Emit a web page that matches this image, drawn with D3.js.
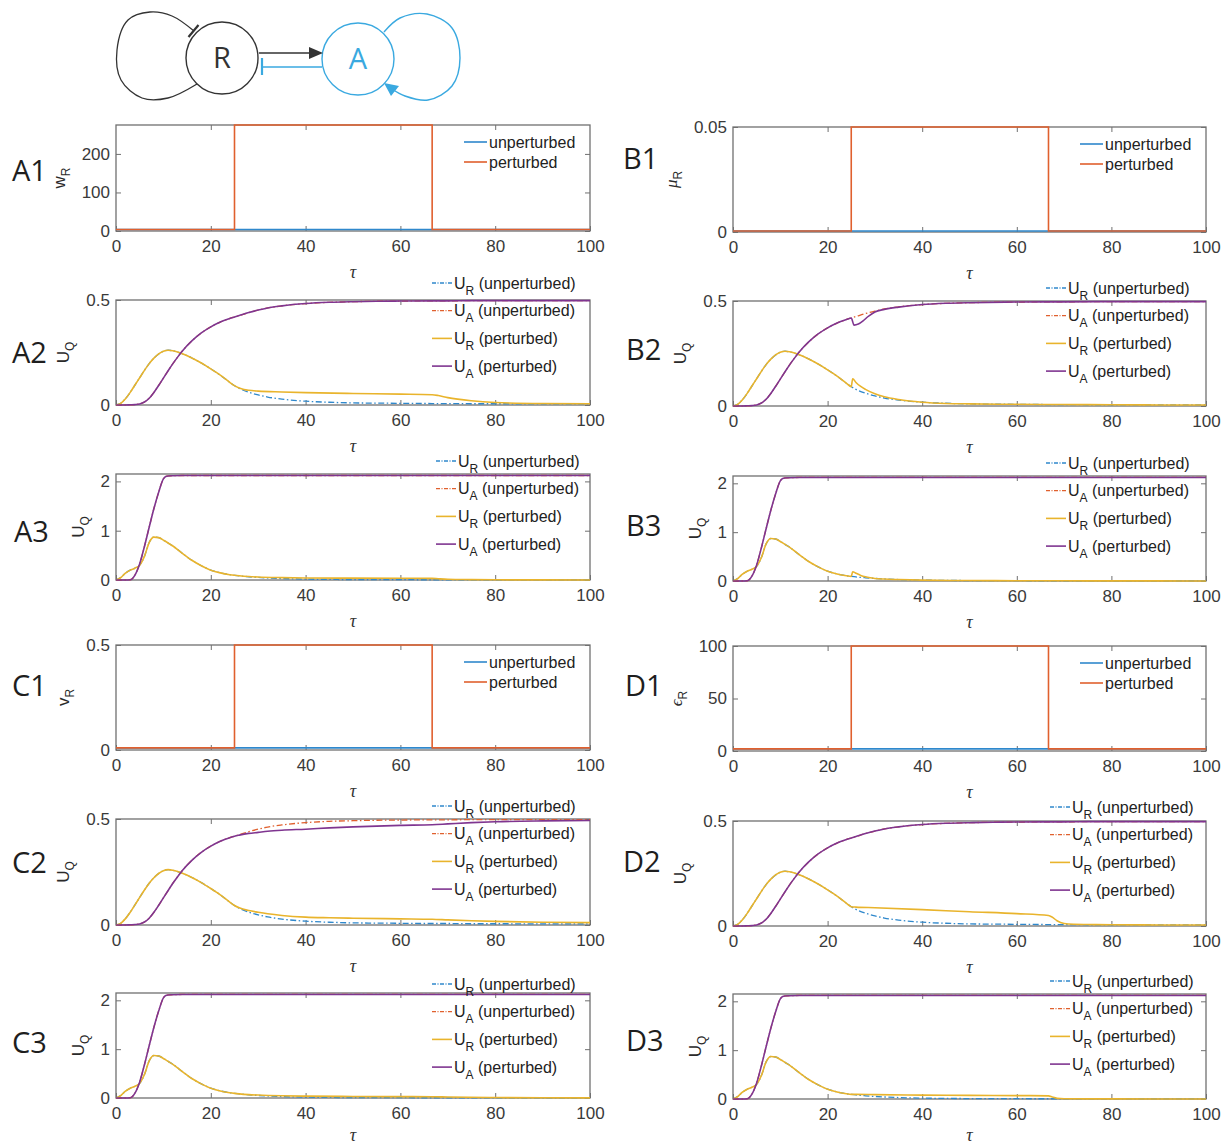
<!DOCTYPE html>
<html><head><meta charset="utf-8">
<script src="https://cdn.jsdelivr.net/npm/d3@7"></script>
<style>body{margin:0;background:#fff}svg{display:block}text{white-space:pre}</style>
</head><body>
<script>
// ---------------- DATA ----------------
const xTicks = [0, 20, 40, 60, 80, 100];

// pulse perturbation (rows 1 & 4)
const pulseTau = [0, 25, 25, 66.7, 66.7, 100];
const wR_unpert = [4, 4, 4, 4, 4, 4];
const wR_pert = [4, 4, 275, 275, 4, 4];
const muR_unpert = [0.0005, 0.0005, 0.0005, 0.0005, 0.0005, 0.0005];
const muR_pert = [0.0005, 0.0005, 0.05, 0.05, 0.0005, 0.0005];
const vR_unpert = [0.01, 0.01, 0.01, 0.01, 0.01, 0.01];
const vR_pert = [0.01, 0.01, 0.5, 0.5, 0.01, 0.01];
const epsR_unpert = [2, 2, 2, 2, 2, 2];
const epsR_pert = [2, 2, 100, 100, 2, 2];

// y tick labels
const wR_ticks = [0, 100, 200];
const muR_ticks = [0, 0.05];
const vR_ticks = [0, 0.5];
const epsR_ticks = [0, 50, 100];
const uLow_ticks = [0, 0.5];
const uHigh_ticks = [0, 1, 2];

// unperturbed, rows 2 & 5
const tauLow = [0,1,2,3,4,5,6,7,8,9,10,11,12,13,14,16,18,20,22,24,25,26,28,30,32,35,40,45,50,55,60,66.7,70,75,80,90,100];
const uR_low = [0,0.008,0.03,0.06,0.095,0.13,0.165,0.197,0.223,0.243,0.256,0.261,0.258,0.252,0.244,0.224,0.2,0.172,0.142,0.108,0.092,0.079,0.061,0.048,0.038,0.028,0.018,0.013,0.01,0.009,0.008,0.007,0.007,0.006,0.006,0.005,0.005];
const uA_low = [0,0,0,0.001,0.002,0.005,0.014,0.032,0.06,0.093,0.128,0.163,0.197,0.228,0.257,0.305,0.343,0.372,0.395,0.412,0.419,0.426,0.44,0.452,0.462,0.472,0.483,0.489,0.492,0.494,0.495,0.496,0.496,0.497,0.497,0.497,0.497];

// perturbed tails (from tau = 25 on)
const A2_uR_tau = [25,26,27,28,30,35,40,50,60,66.7,68,70,75,80,90,100];
const A2_uR = [0.092,0.081,0.074,0.07,0.066,0.062,0.059,0.055,0.052,0.049,0.045,0.035,0.02,0.012,0.007,0.006];
const B2_uR_tau = [25,25.3,26,27,28,30,32,35,40,45,50,60,70,80,90,100];
const B2_uR = [0.092,0.13,0.112,0.093,0.079,0.058,0.044,0.031,0.018,0.012,0.01,0.008,0.007,0.006,0.005,0.005];
const B2_uA_tau = [25,25.6,26.5,27.5,28.5,30,32,35,40,45,50,60,70,80,90,100];
const B2_uA = [0.419,0.385,0.39,0.405,0.425,0.448,0.46,0.471,0.483,0.489,0.492,0.495,0.496,0.497,0.497,0.497];
const C2_tau = [25,26,28,30,32,35,40,45,50,60,66.7,70,75,80,90,100];
const C2_uR = [0.092,0.081,0.068,0.06,0.053,0.045,0.037,0.034,0.032,0.029,0.027,0.024,0.02,0.017,0.013,0.011];
const C2_uA = [0.419,0.424,0.432,0.437,0.442,0.447,0.452,0.458,0.463,0.47,0.473,0.477,0.483,0.487,0.491,0.493];
const D2_uR_tau = [25,26,30,40,50,60,66.7,67.5,68.5,70,72,75,80,90,100];
const D2_uR = [0.092,0.09,0.087,0.078,0.068,0.059,0.05,0.042,0.025,0.012,0.008,0.007,0.006,0.005,0.005];

// unperturbed, rows 3 & 6
const tauHigh = [0,1,2,3,4,5,6,7,8,9,10,10.5,11,12,14,16,18,20,22,24,25,26,28,30,35,40,45,50,60,66.7,70,80,90,100];
const uR_high = [0,0.05,0.14,0.2,0.24,0.3,0.48,0.76,0.87,0.86,0.81,0.78,0.75,0.69,0.54,0.4,0.29,0.2,0.145,0.108,0.095,0.083,0.066,0.052,0.03,0.018,0.012,0.009,0.006,0.005,0.004,0.003,0.002,0.001];
const uA_high = [0,0,0,0.005,0.1,0.33,0.68,1.07,1.45,1.78,2.05,2.1,2.11,2.115,2.12,2.12,2.12,2.12,2.12,2.12,2.12,2.12,2.12,2.12,2.12,2.12,2.12,2.12,2.12,2.12,2.12,2.12,2.12,2.12];

const A3_uR_tau = [25,26,28,30,35,40,50,60,66.7,68,70,75,80,90,100];
const A3_uR = [0.095,0.085,0.07,0.06,0.048,0.042,0.038,0.035,0.033,0.025,0.015,0.008,0.004,0.002,0.001];
const B3_uR_tau = [25,25.3,26,27,28,29,30,32,35,40,50,60,70,80,90,100];
const B3_uR = [0.095,0.19,0.16,0.115,0.085,0.065,0.052,0.04,0.03,0.018,0.009,0.006,0.004,0.003,0.002,0.001];
const C3_uR_tau = [25,26,28,30,35,40,50,60,66.7,70,80,90,100];
const C3_uR = [0.095,0.085,0.07,0.06,0.045,0.038,0.032,0.028,0.026,0.02,0.01,0.005,0.003];
const D3_uR_tau = [25,26,30,40,50,60,66.7,67.5,68.5,70,75,80,100];
const D3_uR = [0.095,0.095,0.09,0.08,0.075,0.07,0.065,0.04,0.015,0.006,0.003,0.002,0.001];

const paramLegend = ["unperturbed", "perturbed"];
const uLegend = [["R","(unperturbed)"],["A","(unperturbed)"],["R","(perturbed)"],["A","(perturbed)"]];

// ---------------- STYLE ----------------
const COL = {blue:"#2f88cc", orange:"#e0602e", yellow:"#e9b42c", purple:"#7f3590"};
const AXIS = "#707070";
const FONT = "'Liberation Sans', Arial, Helvetica, sans-serif";

const svg = d3.select("body").append("svg").attr("width",1223).attr("height",1144);
svg.append("rect").attr("width",1223).attr("height",1144).attr("fill","#fff");

function pert(baseTau, baseVals, tailTau, tailVals){
  if(!tailTau) return {t: baseTau, v: baseVals};
  const t=[], v=[];
  baseTau.forEach((d,i)=>{ if(d<25){t.push(d); v.push(baseVals[i]);} });
  return {t: t.concat(tailTau), v: v.concat(tailVals)};
}

const L = {x0:116, x1:590}, R = {x0:733, x1:1206};
const panels = [
  {id:"A1", c:L, top:125, bottom:231, kind:"param", dom:[0,275], ticks:wR_ticks, ylab:"w", yit:false, lx:12, ly:181,
    un:wR_unpert, pe:wR_pert},
  {id:"B1", c:R, top:127, bottom:232, kind:"param", dom:[0,0.05], ticks:muR_ticks, ylab:"μ", yit:true, lx:623, ly:169,
    un:muR_unpert, pe:muR_pert},
  {id:"C1", c:L, top:645, bottom:750, kind:"param", dom:[0,0.5], ticks:vR_ticks, ylab:"v", yit:false, lx:12, ly:696,
    un:vR_unpert, pe:vR_pert},
  {id:"D1", c:R, top:646, bottom:751, kind:"param", dom:[0,100], ticks:epsR_ticks, ylab:"ϵ", yit:true, lx:625, ly:696,
    un:epsR_unpert, pe:epsR_pert},
  {id:"A2", c:L, top:300, bottom:405, kind:"u", dom:[0,0.5], ticks:uLow_ticks, lx:12, ly:363, legY:283, legX:432,
    tau:tauLow, uR:uR_low, uA:uA_low, pR:[A2_uR_tau,A2_uR], pA:null},
  {id:"B2", c:R, top:301, bottom:406, kind:"u", dom:[0,0.5], ticks:uLow_ticks, lx:626, ly:360, legY:288, legX:1046,
    tau:tauLow, uR:uR_low, uA:uA_low, pR:[B2_uR_tau,B2_uR], pA:[B2_uA_tau,B2_uA]},
  {id:"C2", c:L, top:819, bottom:925, kind:"u", dom:[0,0.5], ticks:uLow_ticks, lx:12, ly:873, legY:806, legX:432,
    tau:tauLow, uR:uR_low, uA:uA_low, pR:[C2_tau,C2_uR], pA:[C2_tau,C2_uA]},
  {id:"D2", c:R, top:821, bottom:926, kind:"u", dom:[0,0.5], ticks:uLow_ticks, lx:623, ly:872, legY:807, legX:1050,
    tau:tauLow, uR:uR_low, uA:uA_low, pR:[D2_uR_tau,D2_uR], pA:null},
  {id:"A3", c:L, top:474, bottom:580, kind:"u", dom:[0,2.15], ticks:uHigh_ticks, lx:14, ly:542, legY:461, legX:436,
    tau:tauHigh, uR:uR_high, uA:uA_high, pR:[A3_uR_tau,A3_uR], pA:null},
  {id:"B3", c:R, top:476, bottom:581, kind:"u", dom:[0,2.15], ticks:uHigh_ticks, lx:626, ly:536, legY:463, legX:1046,
    tau:tauHigh, uR:uR_high, uA:uA_high, pR:[B3_uR_tau,B3_uR], pA:null},
  {id:"C3", c:L, top:993, bottom:1098, kind:"u", dom:[0,2.15], ticks:uHigh_ticks, lx:12, ly:1053, legY:984, legX:432,
    tau:tauHigh, uR:uR_high, uA:uA_high, pR:[C3_uR_tau,C3_uR], pA:null},
  {id:"D3", c:R, top:994, bottom:1099, kind:"u", dom:[0,2.15], ticks:uHigh_ticks, lx:626, ly:1051, legY:981, legX:1050,
    tau:tauHigh, uR:uR_high, uA:uA_high, pR:[D3_uR_tau,D3_uR], pA:null},
];

const DASHDOT = "6,2.5,1.5,2.5";

panels.forEach((p,pi)=>{
  const g = svg.append("g");
  const x = d3.scaleLinear().domain([0,100]).range([p.c.x0, p.c.x1]);
  const y = d3.scaleLinear().domain(p.dom).range([p.bottom, p.top]);
  const clipId = "clip"+pi;
  g.append("clipPath").attr("id",clipId).append("rect")
    .attr("x",p.c.x0).attr("y",p.top-1.5).attr("width",p.c.x1-p.c.x0).attr("height",p.bottom-p.top+3);

  const ax = (axis, tr)=>{
    const a = g.append("g").attr("transform",tr).call(axis);
    a.select(".domain").remove();
    a.selectAll(".tick line").attr("stroke",AXIS).attr("stroke-width",1);
    a.selectAll(".tick text").attr("fill","#3a3a3a").style("font-family",FONT).style("font-size","17px");
    return a;
  };
  ax(d3.axisBottom(x).tickValues(xTicks).tickSizeInner(-5).tickSizeOuter(0).tickPadding(9).tickFormat(d=>String(d)),
     `translate(0,${p.bottom})`);
  ax(d3.axisTop(x).tickValues(xTicks.slice(1,-1)).tickSizeInner(-5).tickSizeOuter(0).tickFormat(""),
     `translate(0,${p.top})`);
  const ya = ax(d3.axisLeft(y).tickValues(p.ticks).tickSizeInner(-5).tickSizeOuter(0).tickPadding(6).tickFormat(d=>String(d)),
     `translate(${p.c.x0},0)`);
  ax(d3.axisRight(y).tickValues(p.ticks).tickSizeInner(-5).tickSizeOuter(0).tickFormat(""),
     `translate(${p.c.x1},0)`);
  g.append("rect").attr("x",p.c.x0).attr("y",p.top).attr("width",p.c.x1-p.c.x0).attr("height",p.bottom-p.top)
    .attr("fill","none").attr("stroke",AXIS).attr("stroke-width",1.3);

  let minX = p.c.x0;
  ya.selectAll(".tick text").each(function(){
    const b=this.getBBox();
    const left = p.c.x0 - 6 - b.width; if(left<minX) minX=left;
  });

  const ylx = minX - 17, yly = (p.top+p.bottom)/2;
  const yl = g.append("text").attr("transform",`translate(${ylx},${yly}) rotate(-90)`)
    .attr("text-anchor","middle").attr("fill","#2a2a2a").style("font-family",FONT).style("font-size","17px");
  if(p.kind==="param"){
    yl.append("tspan").text(p.ylab).style("font-family", p.yit? "'Liberation Serif', 'DejaVu Serif', serif":FONT)
      .style("font-style", p.yit?"italic":"normal");
    yl.append("tspan").attr("dy",5).style("font-size","12px").text("R");
  } else {
    yl.append("tspan").text("U");
    yl.append("tspan").attr("dy",5).style("font-size","12px").text("Q");
  }

  // tau label (kept inside the page at the bottom row)
  g.append("text").attr("x",(p.c.x0+p.c.x1)/2).attr("y",Math.min(p.bottom+47, 1141)).attr("text-anchor","middle")
    .style("font-family","'Liberation Serif', 'DejaVu Serif', serif").style("font-style","italic")
    .style("font-size","18px").attr("fill","#333").text("τ");

  g.append("text").attr("x",p.lx).attr("y",p.ly).style("font-family","'Open Sans', 'Noto Sans', sans-serif")
    .style("font-size","29px").attr("fill","#1e1e1e").text(p.id);

  const lines = g.append("g").attr("clip-path",`url(#${clipId})`);
  const mk = (tt)=> d3.line().x((d,i)=>x(tt[i])).y(d=>y(d));

  if(p.kind==="param"){
    lines.append("path").attr("d",mk(pulseTau)(p.un)).attr("fill","none").attr("stroke",COL.blue).attr("stroke-width",1.6);
    lines.append("path").attr("d",mk(pulseTau)(p.pe)).attr("fill","none").attr("stroke",COL.orange).attr("stroke-width",1.6);
    const lx0 = p.c.x1 - 126;
    [[COL.blue,paramLegend[0]],[COL.orange,paramLegend[1]]].forEach((e,k)=>{
      const yy = p.top + 17 + k*20;
      g.append("line").attr("x1",lx0).attr("x2",lx0+23).attr("y1",yy).attr("y2",yy).attr("stroke",e[0]).attr("stroke-width",1.6);
      g.append("text").attr("x",lx0+25).attr("y",yy+5.5).style("font-family",FONT).style("font-size","16px")
        .attr("fill","#222").text(e[1]);
    });
  } else {
    const PR = pert(p.tau, p.uR, p.pR && p.pR[0], p.pR && p.pR[1]);
    const PA = pert(p.tau, p.uA, p.pA && p.pA[0], p.pA && p.pA[1]);
    const series = [
      {t:p.tau, v:p.uR, c:COL.blue, dash:DASHDOT, w:1.3},
      {t:p.tau, v:p.uA, c:COL.orange, dash:DASHDOT, w:1.3},
      {t:PR.t, v:PR.v, c:COL.yellow, dash:null, w:1.6},
      {t:PA.t, v:PA.v, c:COL.purple, dash:null, w:1.6},
    ];
    series.forEach(s=>{
      lines.append("path").attr("d",mk(s.t).curve(d3.curveMonotoneX)(s.v)).attr("fill","none")
        .attr("stroke",s.c).attr("stroke-width",s.w).attr("stroke-dasharray",s.dash);
    });
    series.forEach((s,k)=>{
      const yy = p.legY + k*27.7;
      g.append("line").attr("x1",p.legX).attr("x2",p.legX+20).attr("y1",yy).attr("y2",yy)
        .attr("stroke",s.c).attr("stroke-width",s.w).attr("stroke-dasharray",s.dash?"4,1.5,1,1.5":null);
      const t = g.append("text").attr("x",p.legX+22).attr("y",yy+5.5).style("font-family",FONT)
        .style("font-size","16px").attr("fill","#222");
      t.append("tspan").text("U");
      t.append("tspan").attr("dy",6).style("font-size","12px").text(uLegend[k][0]);
      t.append("tspan").attr("dy",-6).text(" "+uLegend[k][1]);
    });
  }
});

// ---------------- NETWORK DIAGRAM ----------------
const dg = svg.append("g");
const DARK = "#333", CYAN = "#3aa9e0";
const curve = d3.line().curve(d3.curveCatmullRom.alpha(0.5));
dg.append("circle").attr("cx",222).attr("cy",58).attr("r",36).attr("fill","none").attr("stroke",DARK).attr("stroke-width",1.4);
dg.append("text").attr("x",222).attr("y",68).attr("text-anchor","middle").style("font-family","'Open Sans', sans-serif")
  .style("font-size","29px").attr("fill",DARK).text("R");
dg.append("circle").attr("cx",358).attr("cy",59).attr("r",36).attr("fill","none").attr("stroke",CYAN).attr("stroke-width",1.4);
dg.append("text").attr("x",358).attr("y",69).attr("text-anchor","middle").style("font-family","'Open Sans', sans-serif")
  .style("font-size","29px").attr("fill",CYAN).text("A");
dg.append("path").attr("d",curve([[194,31],[172,16],[150,12],[128,20],[117,50],[121,80],[142,98],[168,98],[197,84]]))
  .attr("fill","none").attr("stroke",DARK).attr("stroke-width",1.3);
dg.append("line").attr("x1",188.5).attr("y1",37).attr("x2",198.5).attr("y2",25).attr("stroke",DARK).attr("stroke-width",2.2);
dg.append("line").attr("x1",259).attr("y1",53).attr("x2",313).attr("y2",53).attr("stroke",DARK).attr("stroke-width",1.5);
dg.append("path").attr("d","M323,53 L309,47 L309,59 Z").attr("fill",DARK);
dg.append("line").attr("x1",322).attr("y1",67).attr("x2",262).attr("y2",67).attr("stroke",CYAN).attr("stroke-width",1.5);
dg.append("line").attr("x1",262).attr("y1",58).attr("x2",262).attr("y2",75).attr("stroke",CYAN).attr("stroke-width",2.2);
dg.append("path").attr("d",curve([[384,32],[400,18],[427,14],[452,28],[460,58],[452,86],[428,100],[405,96],[392,89]]))
  .attr("fill","none").attr("stroke",CYAN).attr("stroke-width",1.4);
dg.append("path").attr("d","M384,83 L399,86 L391,96 Z").attr("fill",CYAN);
</script>
</body></html>
